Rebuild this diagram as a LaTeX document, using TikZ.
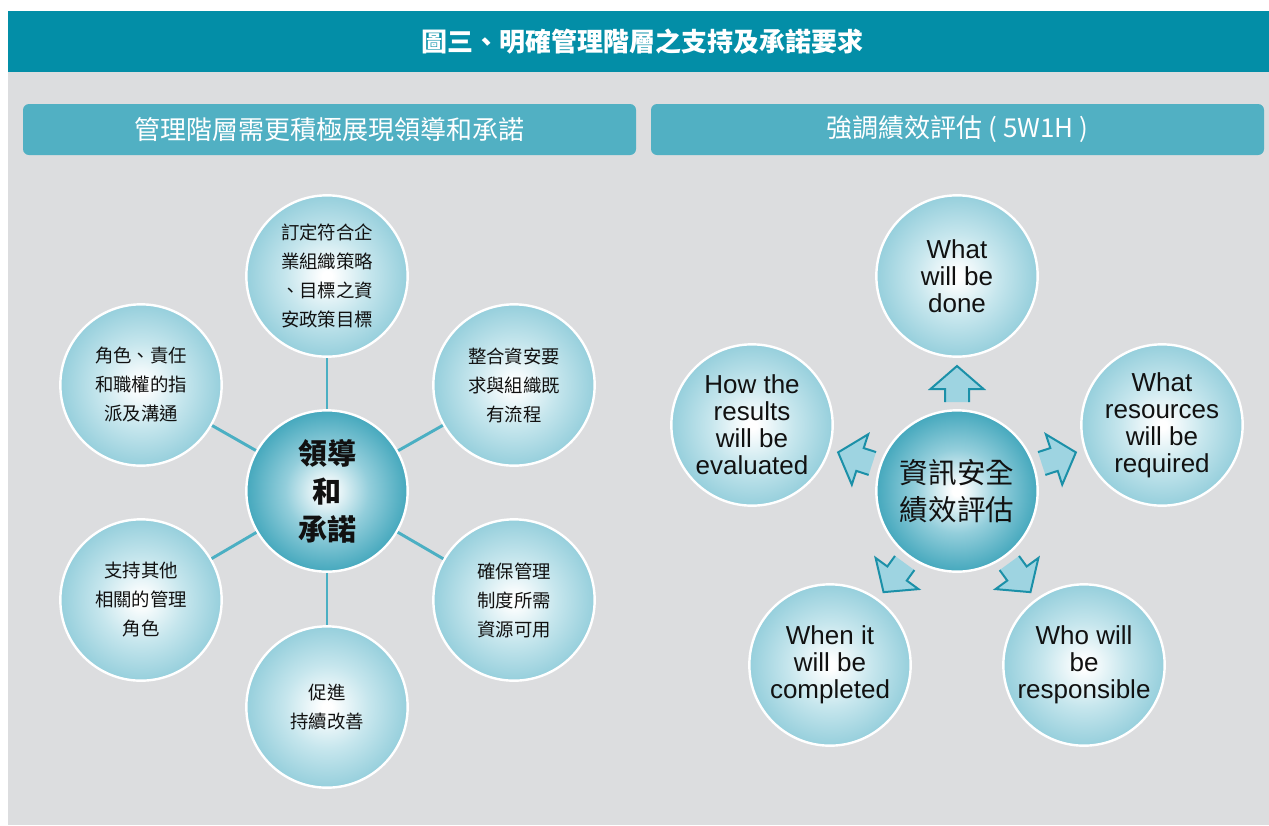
\documentclass[tikz,border=0pt]{standalone}
\usepackage{fontspec}
\setmainfont{Liberation Sans}
\newfontfamily\cjk{Noto Sans CJK TC}
\definecolor{barteal}{HTML}{038EA7}
\definecolor{subteal}{HTML}{51B0C3}
\definecolor{bggray}{HTML}{DCDDDF}
\definecolor{lineteal}{HTML}{4BAFC3}
\definecolor{ctredge}{HTML}{45A8BD}
\definecolor{ctrmid}{HTML}{93CEDB}
\definecolor{outedge}{HTML}{96CFDC}
\definecolor{outmid}{HTML}{C6E6ED}
\definecolor{arrfill}{HTML}{9ED4E1}
\definecolor{arrline}{HTML}{1B90A8}
\definecolor{txt}{HTML}{111111}
\pgfdeclareradialshading{ballctr}{\pgfpoint{0bp}{0bp}}{color(0bp)=(white); color(1.5bp)=(white); color(13bp)=(ctrmid); color(25bp)=(ctredge); color(50bp)=(ctredge)}
\pgfdeclareradialshading{ballout}{\pgfpoint{0bp}{0bp}}{color(0bp)=(white); color(1.5bp)=(white); color(13bp)=(outmid); color(25bp)=(outedge); color(50bp)=(outedge)}
\tikzset{
  ball/.style={circle, minimum size=121pt, inner sep=0pt, draw=white, line width=1.8pt, shade, text=txt, align=center},
  ctrball/.style={ball, shading=ballctr},
  outball/.style={ball, shading=ballout},
  conn/.style={draw=lineteal, line width=2.2pt},
  zhtxt/.style={font=\cjk\fontsize{13.8}{21.75}\selectfont},
  entxt/.style={font=\fontsize{19.5}{20.25}\selectfont},
  subbox/.style={rectangle, rounded corners=4.5pt, fill=subteal, text=white, minimum width=459.75pt, minimum height=38.25pt, inner sep=0pt, font=\cjk\fontsize{19.5}{22}\selectfont},
  arrbody/.style={fill=arrfill},
  arredge/.style={draw=arrline, line width=1.5pt, line join=miter}
}
\newcommand\blkarrow[1]{%
  \begin{scope}[shift={(c2.center)}, rotate=#1]
    \fill[arrbody] (89,-12) -- (102,-12) -- (102,-26.5) -- (125,0) -- (102,26.5) -- (102,12) -- (89,12) -- cycle;
    \draw[arredge] (89,-12) -- (102,-12) -- (102,-26.5) -- (125,0) -- (102,26.5) -- (102,12) -- (89,12);
  \end{scope}}
\begin{document}
\begin{tikzpicture}[x=0.75pt, y=-0.75pt]
\useasboundingbox (0,0) rectangle (1269,825);
\fill[white] (0,0) rectangle (1269,825);
\fill[bggray] (8,72) rectangle (1269,825);
\fill[barteal] (8,11) rectangle (1269,72);
\node[font=\cjk\bfseries\fontsize{19.5}{22}\selectfont, text=white, inner sep=0pt] (title) at (642,42) {圖三、明確管理階層之支持及承諾要求};
\node[subbox] (h1) at (329.5,129.5) {管理階層需更積極展現領導和承諾};
\node[subbox] (h2) at (957.5,129.5) {強調績效評估 ( 5W1H )};

% left diagram
\node[ctrball, font=\cjk\bfseries\fontsize{21.75}{28.5}\selectfont] (c1) at (327,491) {領導\\和\\承諾};
\node[outball, zhtxt] (t1) at (327,276) {訂定符合企\\業組織策略\\、目標之資\\安政策目標};
\node[outball, zhtxt] (t2) at (514,385) {整合資安要\\求與組織既\\有流程};
\node[outball, zhtxt] (t3) at (514,600) {確保管理\\制度所需\\資源可用};
\node[outball, zhtxt] (t4) at (327,707) {促進\\持續改善};
\node[outball, zhtxt] (t5) at (141,600) {支持其他\\相關的管理\\角色};
\node[outball, zhtxt] (t6) at (141,385) {角色、責任\\和職權的指\\派及溝通};
\foreach \n in {t1,t2,t3,t4,t5,t6} { \draw[conn] (c1) -- (\n); }

% right diagram
\node[ctrball, font=\cjk\fontsize{21.4}{27.75}\selectfont] (c2) at (957,491) {資訊安全\\績效評估};
\node[outball, entxt] (o1) at (957,276) {What\\will be\\done};
\node[outball, entxt] (o2) at (1162,425) {What\\resources\\will be\\required};
\node[outball, entxt] (o3) at (1084,665) {Who will\\be\\responsible};
\node[outball, entxt] (o4) at (830,665) {When it\\will be\\completed};
\node[outball, entxt] (o5) at (752,425) {How the\\results\\will be\\evaluated};
\blkarrow{90}
\blkarrow{18}
\blkarrow{-54}
\blkarrow{-126}
\blkarrow{162}
\end{tikzpicture}
\end{document}
